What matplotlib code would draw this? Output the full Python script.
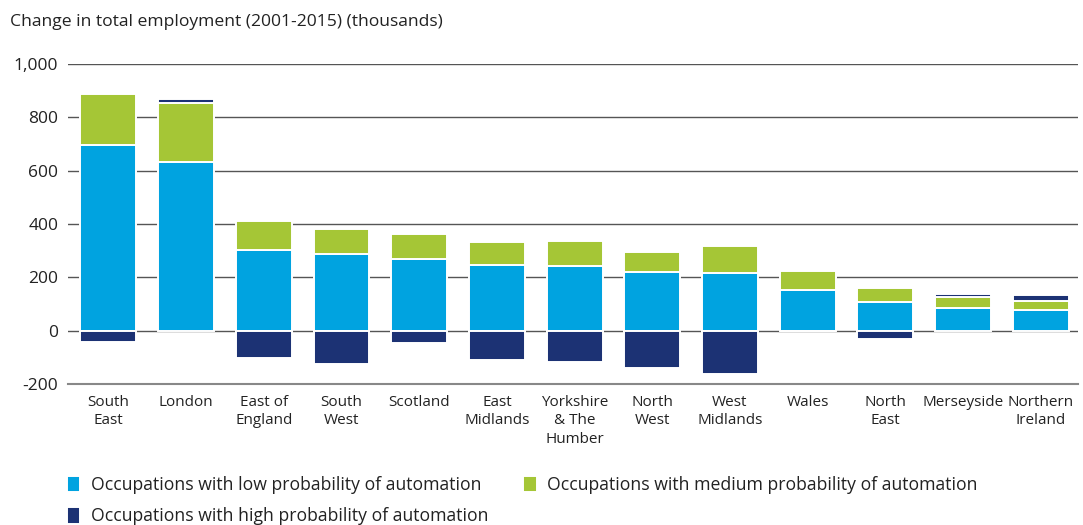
import numpy as np
import matplotlib.pyplot as plt
from matplotlib.ticker import FuncFormatter

plt.rcParams['font.family'] = ['Open Sans', 'DejaVu Sans']

# Change in employment by region, 2001-2015 (thousands)
regions = ['South\nEast', 'London', 'East of\nEngland', 'South\nWest', 'Scotland',
           'East\nMidlands', 'Yorkshire\n& The\nHumber', 'North\nWest', 'West\nMidlands',
           'Wales', 'North\nEast', 'Merseyside', 'Northern\nIreland']
low = [697, 632, 302, 288, 268, 246, 241, 219, 215, 151, 109, 85, 76]
medium = [190, 223, 110, 94, 95, 87, 95, 77, 102, 71, 52, 40, 34]
high = [-43, 12, -104, -124, -45, -109, -116, -141, -161, 0, -30, 14, 22]

low = np.array(low)
medium = np.array(medium)
high = np.array(high)

c_low = '#00a3e0'
c_med = '#a5c636'
c_high = '#1c3274'

fig = plt.figure(figsize=(10.83, 5.25), dpi=100)
ax = fig.add_axes([0.0628, 0.2686, 0.9326, 0.6095])

x = np.arange(len(regions))
w = 0.72
edge = dict(edgecolor='white', linewidth=1.4)

b_low = ax.bar(x, low, w, color=c_low, zorder=3, **edge)
b_med = ax.bar(x, medium, w, bottom=low, color=c_med, zorder=3, **edge)

# high-probability jobs: losses go below zero, gains sit on top of the stack
hi_bottom = np.where(high > 0, low + medium, 0)
b_high = ax.bar(x, high, w, bottom=hi_bottom, color=c_high, zorder=3, **edge)

ax.set_xlim(-0.52, 12.48)
ax.set_ylim(-200, 1000)
ax.set_yticks(np.arange(-200, 1001, 200))
ax.yaxis.set_major_formatter(FuncFormatter(lambda v, p: f'{int(v):,}'))
ax.yaxis.grid(True, color='#555555', linewidth=1.0)
ax.set_axisbelow(True)

ax.set_xticks(x)
ax.set_xticklabels(regions, fontsize=11, color='#222222', linespacing=1.3)
ax.tick_params(axis='both', length=0, colors='#222222')
ax.tick_params(axis='y', labelsize=12.5, pad=7)
ax.tick_params(axis='x', pad=8)

for s in ['top', 'right', 'left']:
    ax.spines[s].set_visible(False)
ax.spines['bottom'].set_color('#888888')
ax.spines['bottom'].set_linewidth(1.5)

fig.text(0.009, 0.958, 'Change in total employment (2001-2015) (thousands)',
         fontsize=12.6, color='#222222', va='center')

leg = fig.legend([b_low, b_high, b_med],
                 ['Occupations with low probability of automation',
                  'Occupations with high probability of automation',
                  'Occupations with medium probability of automation'],
                 ncol=2, loc='lower left', bbox_to_anchor=(0.047, -0.031),
                 frameon=False, fontsize=12.7, handlelength=0.75, handleheight=1.05,
                 handletextpad=0.6, columnspacing=2.0, labelspacing=0.75)
for t in leg.get_texts():
    t.set_color('#222222')

fig.savefig('out.png', dpi=100)
